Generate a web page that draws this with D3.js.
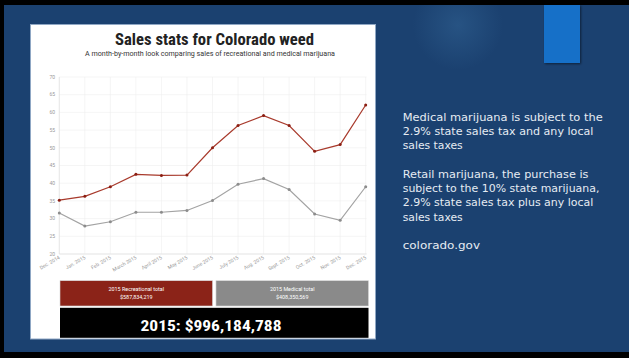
<!DOCTYPE html>
<html><head><meta charset="utf-8">
<script src="https://cdn.jsdelivr.net/npm/d3@7/dist/d3.min.js"></script>
<style>html,body{margin:0;padding:0;background:#000;overflow:hidden}svg{display:block}</style>
</head><body>
<script>
const months = ["Dec. 2014","Jan. 2015","Feb. 2015","March 2015","April 2015","May 2015","June 2015","July 2015","Aug. 2015","Sept. 2015","Oct. 2015","Nov. 2015","Dec. 2015"];
const recreational = [35.2,36.3,39.0,42.5,42.2,42.3,50.0,56.3,59.1,56.3,49.0,50.9,62.1];
const medical = [31.6,27.9,29.1,31.8,31.8,32.3,35.1,39.7,41.3,38.2,31.3,29.5,39.0];
const yTicks = [20,25,30,35,40,45,50,55,60,65,70];
const title = "Sales stats for Colorado weed";
const subtitle = "A month-by-month look comparing sales of recreational and medical marijuana";
const totals = [
  {label:"2015 Recreational total", value:"$587,834,219", color:"#8b2318"},
  {label:"2015 Medical total", value:"$408,350,569", color:"#8a8a8a"}
];
const grandTotal = "2015: $996,184,788";
const notes = [
  ["Medical marijuana is subject to the", 200],
  ["2.9% state sales tax and any local", 190.7],
  ["sales taxes", 60],
  null,
  ["Retail marijuana, the purchase is", 185.7],
  ["subject to the 10% state marijuana,", 196.7],
  ["2.9% state sales tax plus any local", 190.7],
  ["sales taxes", 60],
  null,
  ["colorado.gov", 77.3]
];

const W = 629, H = 358;
const svg = d3.select("body").append("svg").attr("width", W).attr("height", H);
const defs = svg.append("defs");
const rg = defs.append("radialGradient").attr("id","glow").attr("gradientUnits","userSpaceOnUse")
  .attr("cx",458).attr("cy",25).attr("r",45);
rg.append("stop").attr("offset","0%").attr("stop-color","#275383");
rg.append("stop").attr("offset","100%").attr("stop-color","#1b4170");
const sh = defs.append("filter").attr("id","sh").attr("x","-20%").attr("y","-20%").attr("width","150%").attr("height","150%");
sh.append("feDropShadow").attr("dx",1).attr("dy",1).attr("stdDeviation",0.8).attr("flood-color","#000").attr("flood-opacity",0.5);

// slide background
svg.append("rect").attr("width",W).attr("height",H).attr("fill","#000");
svg.append("rect").attr("x",4).attr("y",5).attr("width",W-4).attr("height",347).attr("fill","url(#glow)");
svg.append("rect").attr("x",544).attr("y",5).attr("width",36).attr("height",58).attr("fill","#1570c8").attr("filter","url(#sh)");

// white panel
svg.append("rect").attr("x",30.5).attr("y",24.5).attr("width",345).attr("height",314.5)
  .attr("fill","#fff").attr("stroke","#8fa7c4").attr("stroke-width",1);

// titles
svg.append("text").attr("x",214.5).attr("y",45).attr("text-anchor","middle")
  .attr("font-family","'Roboto Condensed', Roboto, sans-serif").attr("font-weight",700)
  .attr("font-size",16.5).attr("fill","#222").attr("textLength",199).attr("lengthAdjust","spacingAndGlyphs").text(title);
svg.append("text").attr("x",210).attr("y",55.5).attr("text-anchor","middle")
  .attr("font-family","Roboto, sans-serif").attr("font-weight",400)
  .attr("font-size",6.6).attr("fill","#333").attr("textLength",250).attr("lengthAdjust","spacingAndGlyphs").text(subtitle);

// scales
const x = d3.scalePoint().domain(months).range([59.3, 365.7]);
const y = d3.scaleLinear().domain([20,70]).range([254, 77]);

const g = svg.append("g");
// grid
g.selectAll(".hg").data(yTicks).join("line")
  .attr("x1",59.3).attr("x2",366.5).attr("y1",d=>y(d)).attr("y2",d=>y(d))
  .attr("stroke","#eeeeee").attr("stroke-width",0.6);
g.selectAll(".vg").data(months).join("line")
  .attr("x1",d=>x(d)).attr("x2",d=>x(d)).attr("y1",y(70)).attr("y2",y(20))
  .attr("stroke","#eeeeee").attr("stroke-width",0.6);
g.append("line").attr("x1",59.3).attr("x2",366.5).attr("y1",y(20)).attr("y2",y(20)).attr("stroke","#ddd").attr("stroke-width",0.6);
g.append("line").attr("x1",59.3).attr("x2",59.3).attr("y1",y(70)).attr("y2",y(20)).attr("stroke","#ddd").attr("stroke-width",0.6);

// y axis labels
g.selectAll(".yl").data(yTicks).join("text")
  .attr("x",55).attr("y",d=>y(d)+1.7).attr("text-anchor","end")
  .attr("font-family","Roboto, sans-serif").attr("font-size",5).attr("fill","#999").text(d=>d);
// x axis labels
g.selectAll(".xl").data(months).join("text")
  .attr("transform",d=>`translate(${x(d)+1},${y(20)+4.5}) rotate(-30)`)
  .attr("text-anchor","end")
  .attr("font-family","Roboto, sans-serif").attr("font-size",5).attr("fill","#999").text(d=>d);

// lines
const line = d3.line().x((d,i)=>x(months[i])).y(d=>y(d));
[[medical,"#a3a3a3","#8c8c8c"],[recreational,"#a83a2c","#8b1e12"]].forEach(([data,c,pc])=>{
  g.append("path").attr("d",line(data)).attr("fill","none").attr("stroke",c).attr("stroke-width",1.2);
  g.selectAll(null).data(data).join("circle")
    .attr("cx",(d,i)=>x(months[i])).attr("cy",d=>y(d)).attr("r",1.5).attr("fill",pc);
});

// totals boxes
const bx = d3.scaleBand().domain(totals.map(d=>d.label)).range([60, 368.5]).paddingInner(0.022);
const tb = svg.selectAll(".tb").data(totals).join("g");
tb.append("rect").attr("x",d=>bx(d.label)).attr("y",280.7).attr("width",bx.bandwidth()).attr("height",25.3)
  .attr("fill",d=>d.color).attr("stroke","#d8d8d8").attr("stroke-width",0.6);
tb.append("text").attr("x",d=>bx(d.label)+bx.bandwidth()/2).attr("y",291).attr("text-anchor","middle")
  .attr("font-family","Roboto, sans-serif").attr("font-size",5.4).attr("fill","#fff").text(d=>d.label);
tb.append("text").attr("x",d=>bx(d.label)+bx.bandwidth()/2).attr("y",298.5).attr("text-anchor","middle")
  .attr("font-family","Roboto, sans-serif").attr("font-size",5.4).attr("fill","#fff").text(d=>d.value);
svg.append("rect").attr("x",60).attr("y",307.8).attr("width",308.5).attr("height",30).attr("fill","#000");
svg.append("text").attr("x",211).attr("y",331).attr("text-anchor","middle")
  .attr("font-family","'Roboto Condensed', Roboto, sans-serif").attr("font-weight",700)
  .attr("font-size",14).attr("fill","#fff").attr("textLength",141).attr("lengthAdjust","spacingAndGlyphs").text(grandTotal);

// notes
const ny0 = 120.5, lh = 14.3;
notes.forEach((n,i)=>{
  if(!n) return;
  svg.append("text").attr("x",402.7).attr("y",ny0+i*lh)
    .attr("font-family","'DejaVu Sans', sans-serif").attr("font-size",10)
    .attr("fill","#e6ecf3").attr("textLength",n[1]).attr("lengthAdjust","spacingAndGlyphs").text(n[0]);
});
</script>
</body></html>
